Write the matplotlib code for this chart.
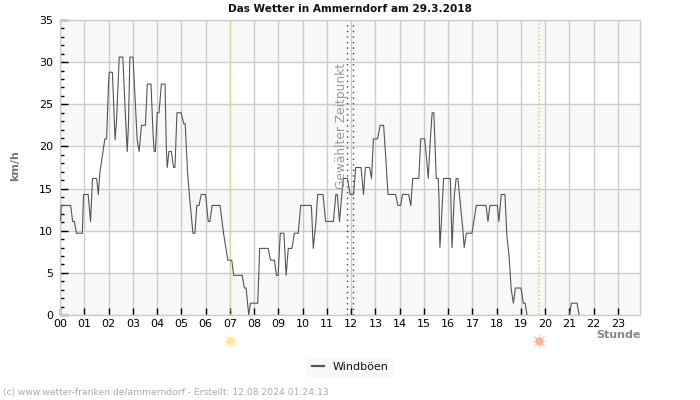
import numpy as np
import matplotlib
matplotlib.use("Agg")
import matplotlib.pyplot as plt

title = "Das Wetter in Ammerndorf am 29.3.2018"
series_name = "Windböen"
hour_labels = [f"{h:02d}" for h in range(24)]
sunrise_hour = 7.0
sunset_hour = 19.75
selected_hours = [11.84, 12.07]

hours = [0.03,0.05,0.44,0.52,0.59,0.68,0.92,0.97,1.16,1.23,1.26,1.34,1.51,1.58,1.64,1.85,1.92,2.0,2.03,2.16,2.27,2.33,2.44,2.59,2.68,2.77,2.82,2.88,3.01,3.10,3.18,3.26,3.36,3.52,3.60,3.75,3.84,3.88,3.93,4.01,4.08,4.18,4.33,4.38,4.42,4.49,4.59,4.68,4.74,4.82,4.99,5.10,5.16,5.26,5.34,5.48,5.56,5.64,5.73,5.82,6.0,6.11,6.18,6.27,6.6,6.74,6.92,7.08,7.16,7.51,7.6,7.67,7.78,
7.85,8.15,8.23,8.58,8.68,8.84,8.92,8.99,9.08,9.23,9.32,9.41,9.56,9.66,9.82,9.92,10.36,10.44,10.55,10.62,10.84,10.95,11.27,11.37,11.43,11.52,11.66,11.68,11.85,11.96,12.1,12.19,12.41,12.51,12.59,12.76,12.84,12.92,13.09,13.2,13.34,13.42,13.52,13.83,13.93,14.04,14.12,14.37,14.46,14.54,14.79,14.87,15.03,15.1,15.18,15.26,15.34,15.41,15.51,15.59,15.62,15.66,15.72,15.81,16.09,16.16,16.25,16.33,16.4,16.61,16.66,16.75,16.98,17.16,17.56,17.64,17.72,18.03,18.09,18.19,18.34,18.42,18.51,18.6,18.69,18.77,19.0,19.1,19.17,19.25,
20.0,21.0,21.08,21.31,21.4]
gusts = [11.2,13,13,11.1,11.1,9.7,9.7,14.3,14.3,12.1,11.1,16.2,16.2,14.3,16.8,20.9,20.9,27.5,28.8,28.8,20.8,23,30.6,30.6,24.7,19.4,22.4,30.6,30.6,25.5,20.8,19.4,22.5,22.5,27.4,27.4,21.2,19.4,19.4,24,24,27.4,27.4,20,17.5,19.4,19.4,17.5,17.5,24,24,22.7,22.7,16.8,14,9.7,9.7,13,13,14.3,14.3,11.1,11.1,13,13,9.7,6.5,6.5,4.7,4.7,3.2,3.2,0,
1.4,1.4,7.9,7.9,6.5,6.5,4.7,4.7,9.7,9.7,4.7,7.9,7.9,9.7,9.7,13,13,7.9,11.1,14.3,14.3,11.1,11.1,14.3,14.3,11.1,15.7,16.2,16.2,14.3,14.3,17.5,17.5,14.3,17.5,17.5,16.2,20.9,20.9,22.5,22.5,19,14.3,14.3,13,13,14.3,14.3,13,16.2,16.2,20.9,20.9,18.9,16.2,20.6,24,24,16.2,16.2,14.1,8,11,16.2,16.2,8,14.1,16.2,16.2,10,8,9.7,9.7,13,13,11.1,13,13,11.1,14.3,14.3,9.4,7,3,1.4,3.2,3.2,1.4,1.4,0,
np.nan,0,1.4,1.4,0]

y_major = [0,5,10,15,20,25,30,35]
band_edges = [(0,5),(10,15),(20,25),(30,35)]

W, H = 700, 400
fig = plt.figure(figsize=(W/100, H/100), dpi=100, facecolor="white")
ax = fig.add_axes([60/W, 1-315/H, 580.3/W, 295/H])
ax.set_xlim(0, 23.92)
ax.set_ylim(0, 35)
ax.set_axisbelow(True)
for lo, hi in band_edges:
    ax.axhspan(lo, hi, color="#f8f8f8", lw=0, zorder=0)
ax.set_xticks(range(24))
ax.set_xticklabels(hour_labels, fontsize=8, color="black")
ax.set_yticks(y_major)
ax.set_yticks(range(36), minor=True)
ax.tick_params(axis="y", which="major", direction="in", length=6, width=1, labelsize=8, pad=5, color="black")
ax.tick_params(axis="y", which="minor", direction="in", length=3, width=1, color="black")
ax.tick_params(axis="x", which="major", direction="in", length=5, width=1, pad=3, color="black")
ax.grid(True, which="major", color="#cccccc", lw=1)
for s in ax.spines.values():
    s.set_color("#cccccc")
    s.set_linewidth(1)

trans = ax.get_xaxis_transform()
ax.axvline(sunrise_hour, color="#f5e25a", lw=1.1, ls=(0, (1, 1.5)), zorder=2)
ax.axvline(sunset_hour, color="#efbf6e", lw=1.1, ls=(0, (1, 1.5)), zorder=2)
for h in selected_hours:
    ax.axvline(h, color="#444444", lw=1, ls=(0, (1, 3)), zorder=2)

line, = ax.plot(hours, gusts, color="#555555", lw=0.8, zorder=3, label=series_name)

ax.text(11.62, 22.4, "Gewählter Zeitpunkt", rotation=90, ha="center", va="center",
        fontsize=8.8, color="#999999", zorder=4)

# sun symbols below the axis
for h, c, r in [(sunrise_hour, "#fde79a", "#fdf0c0"), (sunset_hour, "#fbb49c", "#fcd0c0")]:
    ax.plot([h], [-0.088], marker=(8, 2, 0), ms=10, color=r, mew=0.8, transform=trans, clip_on=False)
    ax.plot([h], [-0.088], marker="o", ms=6, color=c, mew=0, transform=trans, clip_on=False)

fig.text(350/W, 1-8.5/H, title, ha="center", va="center", fontsize=7.6, fontweight="bold", color="#111111")
fig.text(15/W, 1-166/H, "km/h", rotation=90, ha="center", va="center", fontsize=8, fontweight="bold", color="#777777")
fig.text(618/W, 1-335.5/H, "Stunde", ha="center", va="center", fontsize=8, fontweight="bold", color="#888888")
fig.text(3/W, 1-393/H, "(c) www.wetter-franken.de/ammerndorf - Erstellt: 12.08.2024 01:24:13",
         ha="left", va="center", fontsize=6.6, color="#aaaaaa")

leg = fig.legend(handles=[line], loc="center", bbox_to_anchor=(350/W, 1-367/H), frameon=True,
                 fontsize=8, facecolor="#f8f8f8", edgecolor="#f8f8f8", framealpha=1, fancybox=False,
                 handlelength=1.1, handletextpad=0.8, borderpad=0.4, labelcolor="#111111")
for lh in leg.legend_handles:
    lh.set_linewidth(1.6)

fig.savefig("out.png", dpi=100)
